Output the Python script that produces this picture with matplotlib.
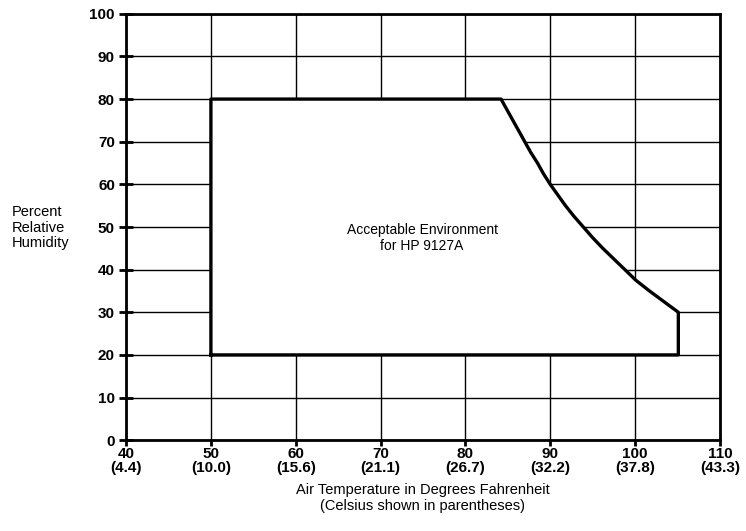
import matplotlib
matplotlib.use("Agg")
import matplotlib.pyplot as plt

plt.rcParams['font.family'] = ['Liberation Sans', 'DejaVu Sans']

x_ticks = [40, 50, 60, 70, 80, 90, 100, 110]
celsius = ["4.4", "10.0", "15.6", "21.1", "26.7", "32.2", "37.8", "43.3"]
y_ticks = [0, 10, 20, 30, 40, 50, 60, 70, 80, 90, 100]

# Acceptable region boundary (temperature F, relative humidity %)
region_temp = [50, 50, 84.2, 84.9, 85.6, 86.3, 87.0, 87.7, 88.5, 89.2, 90.0, 90.9, 91.8,
               92.8, 93.9, 95.0, 96.2, 97.5, 98.8, 100.1, 101.7, 103.4, 105.1, 105.1, 50]
region_rh = [20, 80, 80, 77.5, 75, 72.5, 70, 67.5, 65, 62.5, 60, 57.5, 55,
             52.5, 50, 47.5, 45, 42.5, 40, 37.5, 35, 32.5, 30, 20, 20]

fig = plt.figure(figsize=(7.46, 5.31), dpi=100)
ax = fig.add_axes([0.169, 0.171, 0.796, 0.803])
ax.set_xlim(40, 110)
ax.set_ylim(0, 100)

for xv in x_ticks:
    ax.axvline(xv, color='black', lw=1.0, zorder=1)
for yv in y_ticks:
    ax.axhline(yv, color='black', lw=1.0, zorder=1)

ax.fill(region_temp, region_rh, facecolor='white', edgecolor='none', zorder=2)
ax.plot(region_temp, region_rh, color='black', lw=2.4, zorder=3, solid_joinstyle='round')

ax.text(74.9, 47.4, "Acceptable Environment\nfor HP 9127A", ha='center', va='center',
        fontsize=10, zorder=4, linespacing=1.25)

ax.set_xticks(x_ticks)
ax.set_xticklabels([f"{t}\n({c})" for t, c in zip(x_ticks, celsius)], fontweight='bold', fontsize=11,
                   linespacing=1.0)
ax.set_yticks(y_ticks)
ax.set_yticklabels([str(v) for v in y_ticks], fontweight='bold', fontsize=11)
ax.tick_params(axis='y', direction='inout', length=10, width=2, pad=3)
ax.tick_params(axis='x', direction='out', length=4, width=2, pad=1)

for s in ax.spines.values():
    s.set_linewidth(2)
    s.set_zorder(5)

ax.set_xlabel("Air Temperature in Degrees Fahrenheit\n(Celsius shown in parentheses)", fontsize=10.5,
              labelpad=6, linespacing=1.15)
fig.text(0.016, 0.571, "Percent\nRelative\nHumidity", ha='left', va='center', fontsize=10.5,
         linespacing=1.15)

fig.savefig("out.png", dpi=100)
